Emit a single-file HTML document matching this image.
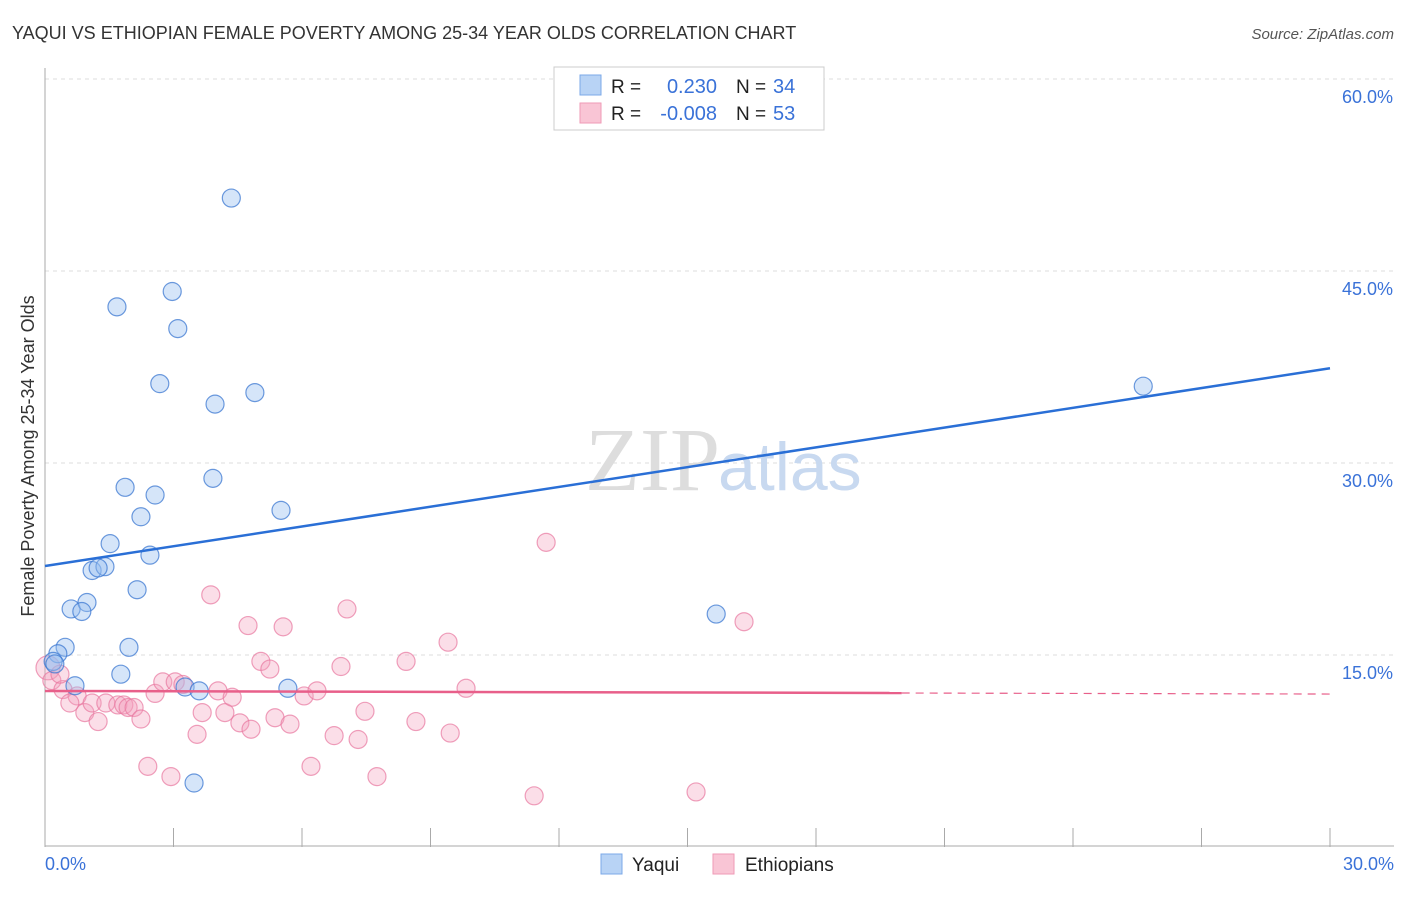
<!DOCTYPE html>
<html><head><meta charset="utf-8"><style>
body{margin:0;background:#fff;font-family:"Liberation Sans",sans-serif}
</style></head><body>
<svg width="1406" height="892" xmlns="http://www.w3.org/2000/svg">
<text x="12" y="39" font-size="18" fill="#333">YAQUI VS ETHIOPIAN FEMALE POVERTY AMONG 25-34 YEAR OLDS CORRELATION CHART</text>
<text x="1394" y="39" font-size="15" fill="#555" font-style="italic" text-anchor="end">Source: ZipAtlas.com</text>
<g id="grid"></g>
<text x="720" y="490" font-size="90" fill="#ddd" text-anchor="end" font-family="Liberation Serif">ZIP</text>
<text x="718" y="490" font-size="68" fill="#c8d9f0">atlas</text>
<text transform="translate(34,456) rotate(-90)" font-size="18" fill="#333" text-anchor="middle">Female Poverty Among 25-34 Year Olds</text>
<g id="pts"></g>
<g id="lines"></g>
<g>
<rect x="554" y="67" width="270" height="63" fill="#fff" stroke="#ccc"/>
<rect x="580" y="75" width="21" height="20" fill="#b8d3f5" stroke="#7ba8e8"/>
<rect x="580" y="103" width="21" height="20" fill="#f9c5d5" stroke="#ef9ab6"/>
<text x="611" y="93" font-size="19" fill="#222">R = </text><text x="717" y="93" font-size="20" fill="#3a72d8" text-anchor="end">0.230</text>
<text x="736" y="93" font-size="19" fill="#222">N = </text><text x="773" y="93" font-size="20" fill="#3a72d8">34</text>
<text x="611" y="120" font-size="19" fill="#222">R = </text><text x="717" y="120" font-size="20" fill="#3a72d8" text-anchor="end">-0.008</text>
<text x="736" y="120" font-size="19" fill="#222">N = </text><text x="773" y="120" font-size="20" fill="#3a72d8">53</text>
</g>
<g>
<rect x="601" y="854" width="21" height="20" fill="#b8d3f5" stroke="#7ba8e8"/>
<text x="632" y="871" font-size="19" fill="#222">Yaqui</text>
<rect x="713" y="854" width="21" height="20" fill="#f9c5d5" stroke="#ef9ab6"/>
<text x="745" y="871" font-size="19" fill="#222">Ethiopians</text>
</g>
<text x="45" y="870" font-size="18" fill="#3a72d8">0.0%</text>
<text x="1394" y="870" font-size="18" fill="#3a72d8" text-anchor="end">30.0%</text>
</svg>
<script>
const yTicks=[15,30,45,60];
const xTicks=[0,3,6,9,12,15,18,21,24,27,30];
const yaquiX=[4.35,1.68,2.97,3.10,2.68,3.97,4.90,3.92,1.87,2.57,2.24,5.51,1.52,2.45,1.10,1.40,1.24,2.15,0.61,0.98,0.86,0.47,1.96,0.30,0.19,0.23,1.77,0.70,3.27,3.60,5.67,3.48,15.67,25.64];
const yaquiY=[50.7,42.2,43.4,40.5,36.2,34.6,35.5,28.8,28.1,27.5,25.8,26.3,23.7,22.8,21.6,21.9,21.8,20.1,18.6,19.1,18.4,15.6,15.6,15.1,14.5,14.3,13.5,12.6,12.5,12.2,12.4,5.0,18.2,36.0];
const ethX=[0.07,0.16,0.42,0.75,0.58,0.93,1.24,1.10,1.42,1.70,1.84,1.94,2.08,2.24,2.40,2.57,2.75,2.94,3.04,3.22,3.55,3.67,3.87,4.04,4.20,4.37,4.55,4.74,4.81,5.04,5.25,5.37,5.56,5.72,6.05,6.21,6.35,6.75,6.91,7.05,7.31,7.47,7.75,8.43,8.66,9.41,9.46,9.83,11.42,11.70,15.20,16.32,0.35];
const ethY=[14.0,13.0,12.3,11.8,11.25,10.5,9.8,11.25,11.25,11.1,11.1,10.9,10.9,10.0,6.3,12.0,12.9,5.5,12.9,12.7,8.8,10.5,19.7,12.2,10.5,11.7,9.7,17.3,9.2,14.5,13.9,10.1,17.2,9.6,11.8,6.3,12.2,8.7,14.1,18.6,8.4,10.6,5.5,14.5,9.8,16.0,8.9,12.4,4.0,23.8,4.3,17.6,13.5];
const blueLine=[[0,21.95],[30,37.4]];
const pinkLine=[[0,12.19],[20,12.03]];
const pinkDash=[[20,12.03],[30,11.95]];
const X=v=>45+v/30*1285, Y=v=>847-v/60*768;
const NS='http://www.w3.org/2000/svg';
function mk(tag,attrs,parent){const e=document.createElementNS(NS,tag);for(const k in attrs)e.setAttribute(k,attrs[k]);parent.appendChild(e);return e;}
const grid=document.getElementById('grid'),pts=document.getElementById('pts'),lines=document.getElementById('lines');
yTicks.forEach(t=>{
 const l=mk('line',{x1:45,x2:1394,y1:Y(t),y2:Y(t),stroke:'#ddd','stroke-dasharray':'4 4'},grid);
 
 
 const tx=mk('text',{x:1393,y:Y(t)+24,'font-size':18,fill:'#3a72d8','text-anchor':'end'},grid);
 tx.textContent=t.toFixed(1)+'%';
 
 
});
const ax=mk('line',{x1:45,x2:45,y1:68,y2:847,stroke:'#aaa'},grid);


const bx=mk('line',{x1:45,x2:1394,y1:846,y2:846,stroke:'#aaa'},grid);


xTicks.forEach(t=>{
 const l=mk('line',{x1:X(t),x2:X(t),y1:828,y2:847,stroke:'#aaa'},grid);
 
 
});
ethX.forEach((v,i)=>{
 const c=mk('circle',{cx:X(v),cy:Y(ethY[i]),r:i==0?12:9,fill:'rgba(244,160,188,0.35)',stroke:'rgba(232,120,160,0.7)','stroke-width':1.2},pts);
 
 
});
yaquiX.forEach((v,i)=>{
 const c=mk('circle',{cx:X(v),cy:Y(yaquiY[i]),r:9,fill:'rgba(150,190,240,0.4)',stroke:'rgba(60,120,210,0.75)','stroke-width':1.2},pts);
 
 
});
const b=mk('line',{x1:X(blueLine[0][0]),y1:Y(blueLine[0][1]),x2:X(blueLine[1][0]),y2:Y(blueLine[1][1]),stroke:'#2a6fd6','stroke-width':2.5},lines);


const p=mk('line',{x1:X(pinkLine[0][0]),y1:Y(pinkLine[0][1]),x2:X(pinkLine[1][0]),y2:Y(pinkLine[1][1]),stroke:'#e85f8a','stroke-width':2.5},lines);


const d=mk('line',{x1:X(pinkDash[0][0]),y1:Y(pinkDash[0][1]),x2:X(pinkDash[1][0]),y2:Y(pinkDash[1][1]),stroke:'#e85f8a','stroke-width':1.2,'stroke-dasharray':'8 6'},lines);


</script>
</body></html>
